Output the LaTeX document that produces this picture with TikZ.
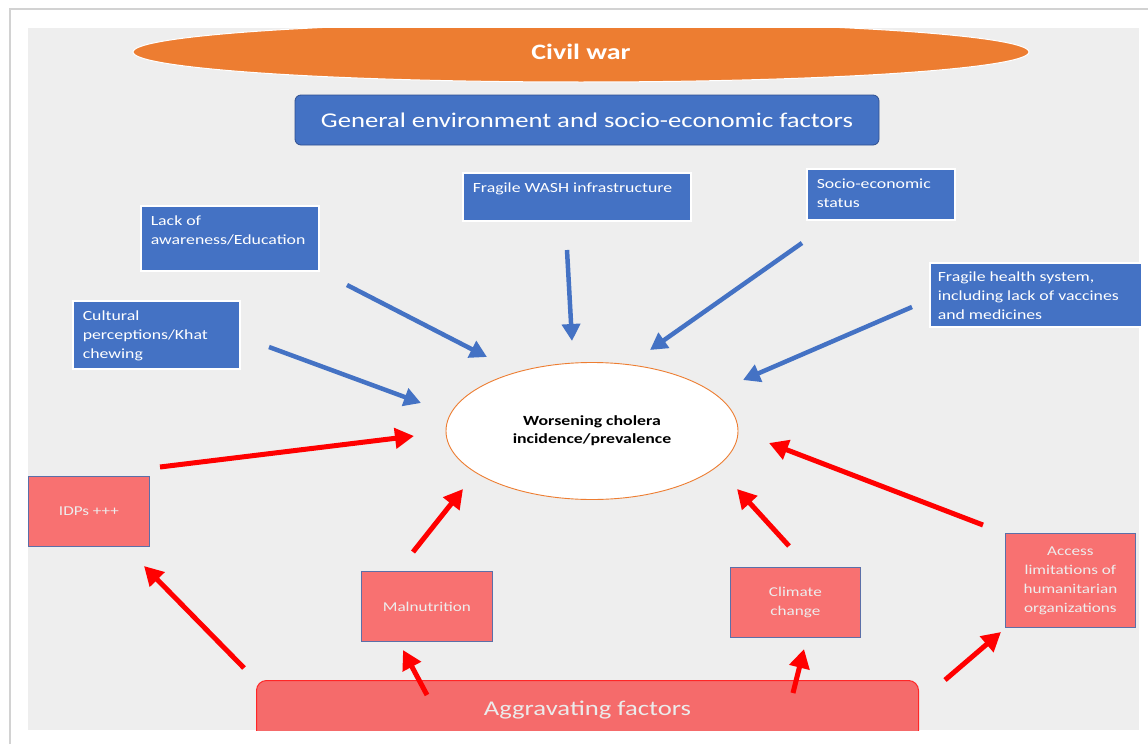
\documentclass[tikz,border=0pt]{standalone}
\usepackage{fontspec}
\setmainfont{Carlito}[FakeStretch=1.27]
\usetikzlibrary{arrows.meta,shapes.geometric}
\definecolor{pblue}{HTML}{4472C4}
\definecolor{porange}{HTML}{ED7D31}
\definecolor{pred}{HTML}{F87171}
\definecolor{aggr}{HTML}{F56B6B}
\definecolor{panel}{HTML}{EEEEEE}
\definecolor{bord}{HTML}{5B6FA8}
\definecolor{hdbord}{HTML}{2F4F8F}
\newcommand{\tbox}[3]{\parbox[c][#2][t]{#1}{\raggedright #3}}
\tikzset{
  bluebox/.style={fill=pblue, draw=white, line width=1.5pt, inner xsep=10pt, inner ysep=10pt,
    anchor=north west, text=white, font=\fontsize{14}{19}\selectfont},
  redbox/.style={fill=pred, draw=bord, line width=0.8pt, inner sep=2pt, align=center,
    text=white!93!black, font=\fontsize{13.5}{19}\selectfont},
  bluearrow/.style={draw=pblue, line width=4.5pt, -{Triangle[length=17pt,width=18pt]}},
  redarrow/.style={draw=red, line width=5pt, -{Triangle[length=19pt,width=20pt]}},
}
\begin{document}
\begin{tikzpicture}[x=1pt,y=-1pt]
\useasboundingbox (0,0) rectangle (1148,744);
\fill[white] (0,0) rectangle (1148,744);
\draw[gray!35, line width=2pt] (10,744) -- (10,9) -- (1148,9);
\fill[panel] (28,28) rectangle (1139,730);
\begin{scope}
\clip (28,28) rectangle (1139,730);
\node[ellipse, fill=porange, draw=white, line width=1pt, minimum width=896pt, minimum height=60pt, inner sep=0,
  text=white, font=\bfseries\fontsize{22}{26}\selectfont] (war) at (581,52) {Civil war};
\node[rectangle, rounded corners=10pt, fill=aggr, draw=red!85, line width=1pt, minimum width=662pt, minimum height=60pt,
  anchor=north west, inner sep=0, text=white!92!black, font=\fontsize{21}{26}\selectfont] (agg) at (256,680) {\raisebox{-8pt}{Aggravating factors}};
\end{scope}
\node[rectangle, rounded corners=6pt, fill=pblue, draw=hdbord, line width=0.8pt, minimum width=584pt, minimum height=50pt,
  inner sep=0, text=white, font=\fontsize{21}{26}\selectfont] (gen) at (587,120) {General environment and socio-economic factors};

\node[bluebox] (wash) at (462,172) {\tbox{208pt}{28pt}{Fragile WASH infrastructure}};
\node[bluebox] (socio) at (806,168) {\tbox{128pt}{31pt}{Socio-economic\\status}};
\node[bluebox] (lack) at (140,205) {\tbox{158pt}{45pt}{Lack of\\awareness/Education}};
\node[bluebox] (cult) at (72,300) {\tbox{147pt}{48pt}{Cultural\\perceptions/Khat\\chewing}};
\node[bluebox, inner xsep=8pt, inner ysep=9pt] (health) at (929,262) {\tbox{196pt}{46pt}{Fragile health system,\\including lack of vaccines\\and medicines}};

\node[ellipse, fill=white, draw=porange, line width=0.9pt, minimum width=292pt, minimum height=137pt, inner sep=0,
  align=center, font=\bfseries\fontsize{14}{18}\selectfont] (chol) at (592,431) {Worsening cholera\\incidence/prevalence};

\node[redbox, minimum width=121pt, minimum height=70pt, anchor=north west] (idp) at (28,476) {IDPs +++};
\node[redbox, minimum width=131pt, minimum height=70pt, anchor=north west] (mal) at (361,571) {Malnutrition};
\node[redbox, minimum width=130pt, minimum height=70pt, anchor=north west] (clim) at (730,567) {Climate\\change};
\node[redbox, minimum width=130pt, minimum height=94pt, anchor=north west] (acc) at (1005,533) {Access\\limitations of\\humanitarian\\organizations};

% blue arrow ends
\coordinate (lackS) at (347,285); \coordinate (lackE) at (487,357);
\coordinate (cultS) at (269,347); \coordinate (cultE) at (421,403);
\coordinate (washS) at (567,250); \coordinate (washE) at (572,341);
\coordinate (socS) at (802,243); \coordinate (socE) at (650,350);
\coordinate (heaS) at (912,307); \coordinate (heaE) at (743,380);
\draw[bluearrow] (lackS) -- (lackE);
\draw[bluearrow] (cultS) -- (cultE);
\draw[bluearrow] (washS) -- (washE);
\draw[bluearrow] (socS) -- (socE);
\draw[bluearrow] (heaS) -- (heaE);

% red arrow ends
\coordinate (idpS) at (160,467); \coordinate (idpE) at (414,436);
\coordinate (malS) at (413,552); \coordinate (malE) at (463,489);
\coordinate (climS) at (789,546); \coordinate (climE) at (737,489);
\coordinate (accS) at (983,525); \coordinate (accE) at (769,443);
\coordinate (a1S) at (244,668); \coordinate (a1E) at (144,566);
\coordinate (a2S) at (427,695); \coordinate (a2E) at (403,650);
\coordinate (a3S) at (793,693); \coordinate (a3E) at (804,649);
\coordinate (a4S) at (945,680); \coordinate (a4E) at (1001,632);
\draw[redarrow] (idpS) -- (idpE);
\draw[redarrow] (malS) -- (malE);
\draw[redarrow] (climS) -- (climE);
\draw[redarrow] (accS) -- (accE);
\draw[redarrow] (a1S) -- (a1E);
\draw[redarrow] (a2S) -- (a2E);
\draw[redarrow] (a3S) -- (a3E);
\draw[redarrow] (a4S) -- (a4E);
\end{tikzpicture}
\end{document}
